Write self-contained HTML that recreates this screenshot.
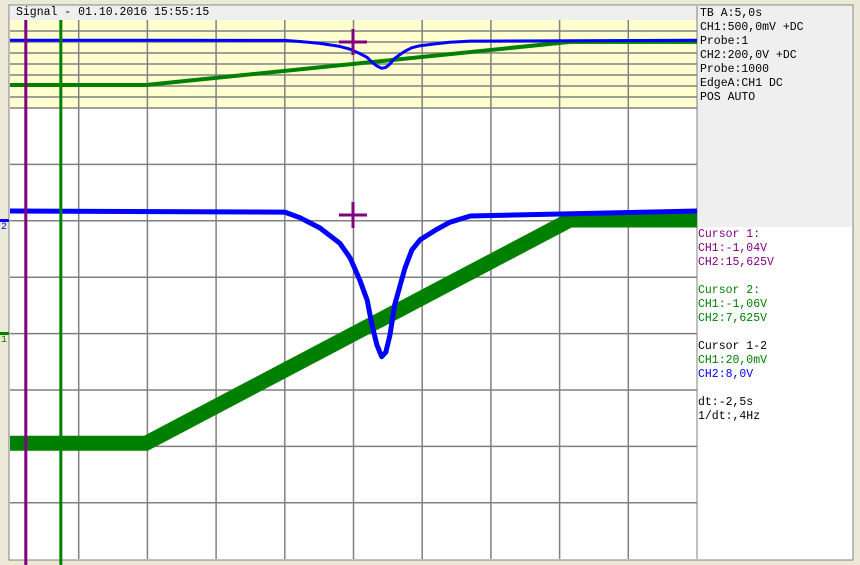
<!DOCTYPE html>
<html><head><meta charset="utf-8"><style>
body{margin:0;width:860px;height:565px;background:#ece9d8;overflow:hidden;font-family:"Liberation Mono",monospace;}
#wrap{position:relative;width:860px;height:565px;}
.t{position:absolute;font-size:11.5px;line-height:14px;white-space:pre;}
</style></head><body>
<div id="wrap">
<svg id="scope" width="860" height="565" style="position:absolute;left:0;top:0">
<rect x="9" y="5" width="844" height="555" fill="#fff" stroke="#808080"/>
<rect x="10" y="6" width="687" height="14" fill="#efefef"/>
<rect x="10" y="20" width="687" height="88" fill="#ffffd0"/>
<rect x="697" y="6" width="155" height="221" fill="#efefef"/>
<line x1="697" y1="6" x2="697" y2="559" stroke="#808080"/>
<g id="grid"></g>
<g id="traces"></g>
</svg>
<div class="t" style="left:16px;top:6px;color:#000">Signal - 01.10.2016 15:55:15</div>
<div class="t" style="left:700px;top:7px;color:#000">TB A:5,0s
CH1:500,0mV +DC
Probe:1
CH2:200,0V +DC
Probe:1000
EdgeA:CH1 DC
POS AUTO</div>
<div class="t" style="left:698px;top:228px"><span style="color:#800080">Cursor 1:
CH1:-1,04V
CH2:15,625V</span>

<span style="color:#008000">Cursor 2:
CH1:-1,06V
CH2:7,625V</span>

<span style="color:#000">Cursor 1-2</span>
<span style="color:#008000">CH1:20,0mV</span>
<span style="color:#0000ff">CH2:8,0V</span>

<span style="color:#000">dt:-2,5s
1/dt:,4Hz</span></div>
<div class="t" style="left:1px;top:221px;color:#0000ff;font-size:10px">2</div>
<div class="t" style="left:1px;top:334px;color:#008000;font-size:10px">1</div>
</div>
<script>
// time in divisions (0..10), values in divisions from screen center
const blueTimes=[0,4.0,4.22,4.51,4.80,4.95,5.09,5.20,5.27,5.34,5.41,5.47,5.53,5.60,5.68,5.75,5.85,5.97,6.19,6.40,6.70,10];
const blueValues=[2.16,2.14,2.04,1.86,1.59,1.33,0.94,0.58,0.14,-0.21,-0.42,-0.34,-0.04,0.50,0.85,1.15,1.47,1.65,1.82,1.96,2.07,2.16];
const greenTimes=[0,1.98,8.15,10];
const greenValues=[-1.95,-1.95,2.0,2.0];
const cursorTimes=[0.23,0.74];

const NS="http://www.w3.org/2000/svg";
const X0=10,XW=68.7;
const xs=t=>X0+t*XW;
const yMain=v=>333-v*56.5;
const yZoom=v=>63.7-v*10.9;
function mk(tag,attrs,parent){const e=document.createElementNS(NS,tag);for(const k in attrs)e.setAttribute(k,attrs[k]);parent.appendChild(e);return e;}
const grid=document.getElementById('grid'),tr=document.getElementById('traces');
for(let i=1;i<10;i++){
 const l=mk('line',{x1:xs(i),x2:xs(i),y1:20,y2:559,stroke:'#808080','stroke-width':1.5},grid);
 
 
}
for(let i=1;i<=8;i++){
 const y=20+i*11;
 const l=mk('line',{x1:10,x2:697,y1:y,y2:y,stroke:'#808080','stroke-width':1.5},grid);
 
 
}
for(let i=1;i<8;i++){
 const y=108+i*56.4;
 const l=mk('line',{x1:10,x2:697,y1:y,y2:y,stroke:'#808080','stroke-width':1.5},grid);
 
 
}
function path(ts,vs,yf){return ts.map((t,i)=>(i?'L':'M')+xs(t).toFixed(1)+','+yf(vs[i]).toFixed(1)).join('');}
const gm=mk('path',{d:path(greenTimes,greenValues,yMain),fill:'none',stroke:'#008000','stroke-width':15},tr);


const bm=mk('path',{d:path(blueTimes,blueValues,yMain),fill:'none',stroke:'#0000ff','stroke-width':5,'stroke-linejoin':'round'},tr);


const gz=mk('path',{d:path(greenTimes,greenValues,yZoom),fill:'none',stroke:'#008000','stroke-width':4},tr);


const bz=mk('path',{d:path(blueTimes,blueValues,yZoom),fill:'none',stroke:'#0000ff','stroke-width':3,'stroke-linejoin':'round'},tr);


const cc=['#800080','#008000'];
cursorTimes.forEach((t,i)=>{
 const l=mk('line',{x1:xs(t),x2:xs(t),y1:20,y2:565,stroke:cc[i],'stroke-width':3},tr);
 
 
});
[[215],[42]].forEach((p,i)=>{
 const g=mk('g',{stroke:'#800080','stroke-width':3},tr);
 
 
 mk('line',{x1:339,x2:367,y1:p[0],y2:p[0]},g);mk('line',{x1:353,x2:353,y1:p[0]-13,y2:p[0]+13},g);
});
const m2=mk('rect',{x:0,y:219,width:9,height:3,fill:'#0000ff'},tr);


const m1=mk('rect',{x:0,y:332,width:9,height:3,fill:'#008000'},tr);


</script>
</body></html>
